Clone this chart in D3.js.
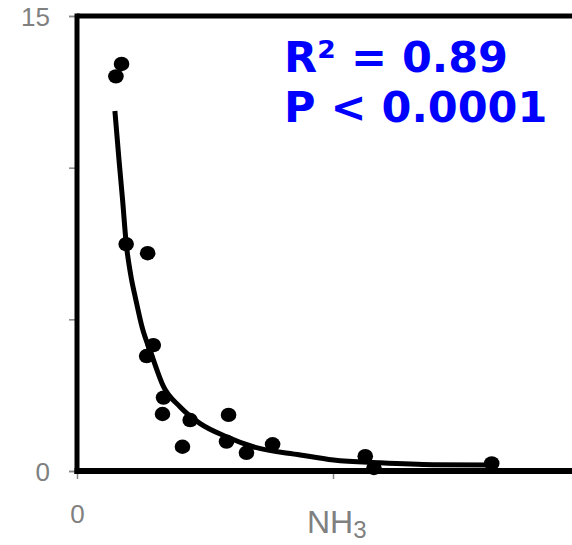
<!DOCTYPE html>
<html>
<head>
<meta charset="utf-8">
<script src="https://cdn.jsdelivr.net/npm/d3@7"></script>
<style>
  body { margin: 0; background: #fff; }
  svg { display: block; }
</style>
</head>
<body>
<svg width="572" height="545"></svg>
<script>
// measured points (NH3 vs y)
var pointX = [8.7, 7.6, 9.6, 13.8, 14.9, 13.6, 16.9, 16.7, 22.1, 20.6, 29.6, 29.2, 33.1, 38.2, 56.3, 58.0, 81.0];
var pointY = [13.42, 13.01, 7.48, 7.18, 4.15, 3.79, 2.42, 1.88, 1.68, 0.80, 1.85, 0.97, 0.60, 0.88, 0.49, 0.10, 0.25];

// fitted curve
var fitX = [7.4, 8.2, 8.9, 9.6, 10.5, 11.5, 12.7, 14.6, 16.9, 20.1, 24.0, 29.2, 34.4, 43.6, 50.1, 59.2, 69.6, 81.3];
var fitY = [11.87, 10.26, 8.94, 7.52, 6.46, 5.64, 4.75, 3.82, 2.78, 2.12, 1.57, 1.13, 0.80, 0.53, 0.36, 0.27, 0.21, 0.20];

var yTicks = [0, 5, 10, 15];
var yTickLabels = ["0", "", "", "15"];
var xTicks = [0, 50];
var xTickLabels = ["0", ""];

var statLines = ["R² = 0.89", "P < 0.0001"];

var svg = d3.select("svg");

var x = d3.scaleLinear().domain([0, 100]).range([77, 589]),
    y = d3.scaleLinear().domain([0, 15]).range([471, 16]);

var grey = "#878787";

// y axis (grey ticks + labels)
var yAxis = svg.append("g")
    .attr("transform", "translate(" + x(0) + ",0)")
    .call(d3.axisLeft(y).tickValues(yTicks).tickSize(8).tickPadding(19)
      .tickFormat(function(d, i) { return yTickLabels[i]; }));
yAxis.select(".domain").attr("stroke", grey).attr("stroke-width", 1.5);
yAxis.selectAll(".tick line").attr("stroke", grey).attr("stroke-width", 1.5);
yAxis.selectAll(".tick text")
    .attr("fill", "#808080")
    .style("font", "26px 'Liberation Sans', Arial, sans-serif")
    .attr("dy", "0.36em");

// x axis
var xAxis = svg.append("g")
    .attr("transform", "translate(0," + y(0) + ")")
    .call(d3.axisBottom(x).tickValues(xTicks).tickSize(8).tickPadding(26)
      .tickFormat(function(d, i) { return xTickLabels[i]; }));
xAxis.select(".domain").remove();
xAxis.selectAll(".tick line").attr("stroke", grey).attr("stroke-width", 1.5);
xAxis.selectAll(".tick text")
    .attr("fill", "#808080")
    .style("font", "26px 'Liberation Sans', Arial, sans-serif");

// thick black frame lines
svg.append("line")
    .attr("x1", x(0)).attr("x2", 540)
    .attr("y1", 17.5).attr("y2", 17.5)
    .attr("stroke", grey).attr("stroke-width", 1);
svg.append("line")
    .attr("x1", x(0)).attr("x2", 572)
    .attr("y1", y(15)).attr("y2", y(15))
    .attr("stroke", "#000").attr("stroke-width", 5);
svg.append("line")
    .attr("x1", x(0)).attr("x2", x(0))
    .attr("y1", y(15) - 2.5).attr("y2", y(0) + 3)
    .attr("stroke", "#000").attr("stroke-width", 5);
svg.append("line")
    .attr("x1", x(0) - 2.5).attr("x2", 572)
    .attr("y1", y(0)).attr("y2", y(0))
    .attr("stroke", "#000").attr("stroke-width", 6);

// axis title
var title = svg.append("text")
    .attr("x", 307).attr("y", 533)
    .attr("fill", "#808080")
    .style("font", "32px 'Liberation Sans', Arial, sans-serif");
title.append("tspan").text("NH");
title.append("tspan").attr("dy", 5).style("font-size", "24px").text("3");

// fit curve
var fit = fitX.map(function(d, i) { return {x: d, y: fitY[i]}; });
var line = d3.line()
    .curve(d3.curveMonotoneX)
    .x(function(d) { return x(d.x); })
    .y(function(d) { return y(d.y); });

svg.append("path")
    .datum(fit)
    .attr("d", line)
    .attr("fill", "none")
    .attr("stroke", "#000")
    .attr("stroke-width", 5);

// points
var pts = pointX.map(function(d, i) { return {x: d, y: pointY[i]}; });
svg.selectAll(".dot")
    .data(pts)
    .enter().append("ellipse")
    .attr("class", "dot")
    .attr("cx", function(d) { return x(d.x); })
    .attr("cy", function(d) { return y(d.y); })
    .attr("rx", 7.8)
    .attr("ry", 7.2)
    .attr("fill", "#000");

// stats text
svg.selectAll(".stat")
    .data(statLines)
    .enter().append("text")
    .attr("class", "stat")
    .attr("x", 284)
    .attr("y", function(d, i) { return 72 + i * 50; })
    .attr("fill", "#0000ff")
    .style("font", "bold 43px 'DejaVu Sans', Verdana, sans-serif")
    .text(function(d) { return d; });
</script>
</body>
</html>
